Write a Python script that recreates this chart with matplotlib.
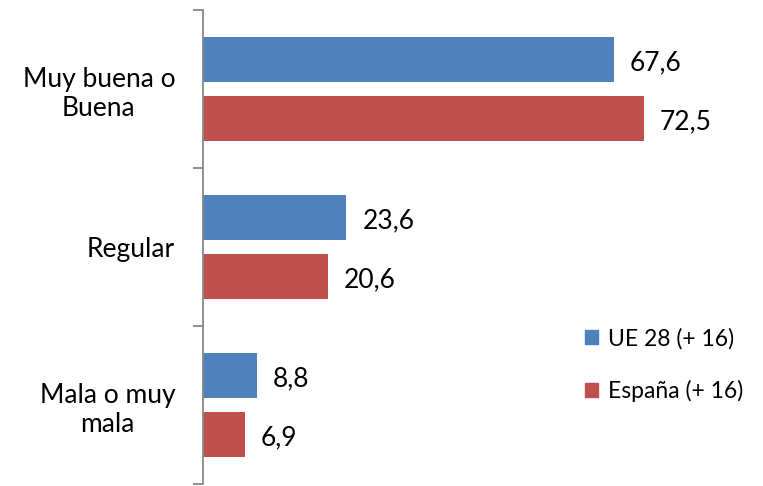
import numpy as np
import matplotlib.pyplot as plt
from matplotlib.patches import Patch

categories = ["Muy buena o\nBuena", "Regular", "Mala o muy\nmala"]
ue28 = [67.6, 23.6, 8.8]
espana = [72.5, 20.6, 6.9]
series_names = ["UE 28 (+ 16)", "España (+ 16)"]

blue = "#4F81BD"
red = "#C0504D"

plt.rcParams['font.family'] = ['Lato', 'DejaVu Sans']

fig = plt.figure(figsize=(7.63, 4.86), dpi=100)
ax = fig.add_axes([203 / 763, (486 - 484) / 486, 560 / 763, (484 - 10) / 486])

y = np.arange(len(categories))
h = 0.285
off = 0.187

b1 = ax.barh(y - off, ue28, height=h, color=blue)
b2 = ax.barh(y + off, espana, height=h, color=red)

for bars, vals in ((b1, ue28), (b2, espana)):
    for bar, v in zip(bars, vals):
        ax.text(bar.get_width() + 2.6, bar.get_y() + bar.get_height() / 2 + 0.02,
                f"{v:.1f}".replace(".", ","), va="center", ha="left",
                fontsize=19, color="black")

ax.set_xlim(0, 560 / 6.08)
ax.set_ylim(2.5, -0.5)

ax.set_yticks(y)
ax.set_yticklabels(categories, fontsize=19, multialignment="center")
ax.tick_params(axis="y", which="major", length=0, pad=20)
ax.set_yticks([-0.5, 0.5, 1.5, 2.5], minor=True)
ax.tick_params(axis="y", which="minor", length=7, width=1.3, color="#888888")

ax.set_xticks([])
for s in ("top", "right", "bottom"):
    ax.spines[s].set_visible(False)
ax.spines["left"].set_color("#888888")
ax.spines["left"].set_linewidth(1.3)

handles = [Patch(color=blue), Patch(color=red)]
fig.legend(handles, series_names, loc="upper left",
           bbox_to_anchor=(564 / 763, 1 - 307 / 486), frameon=False,
           fontsize=16.5, handlelength=0.6, handleheight=0.6,
           labelspacing=1.35, handletextpad=0.4)

plt.savefig("out.png", dpi=100)
